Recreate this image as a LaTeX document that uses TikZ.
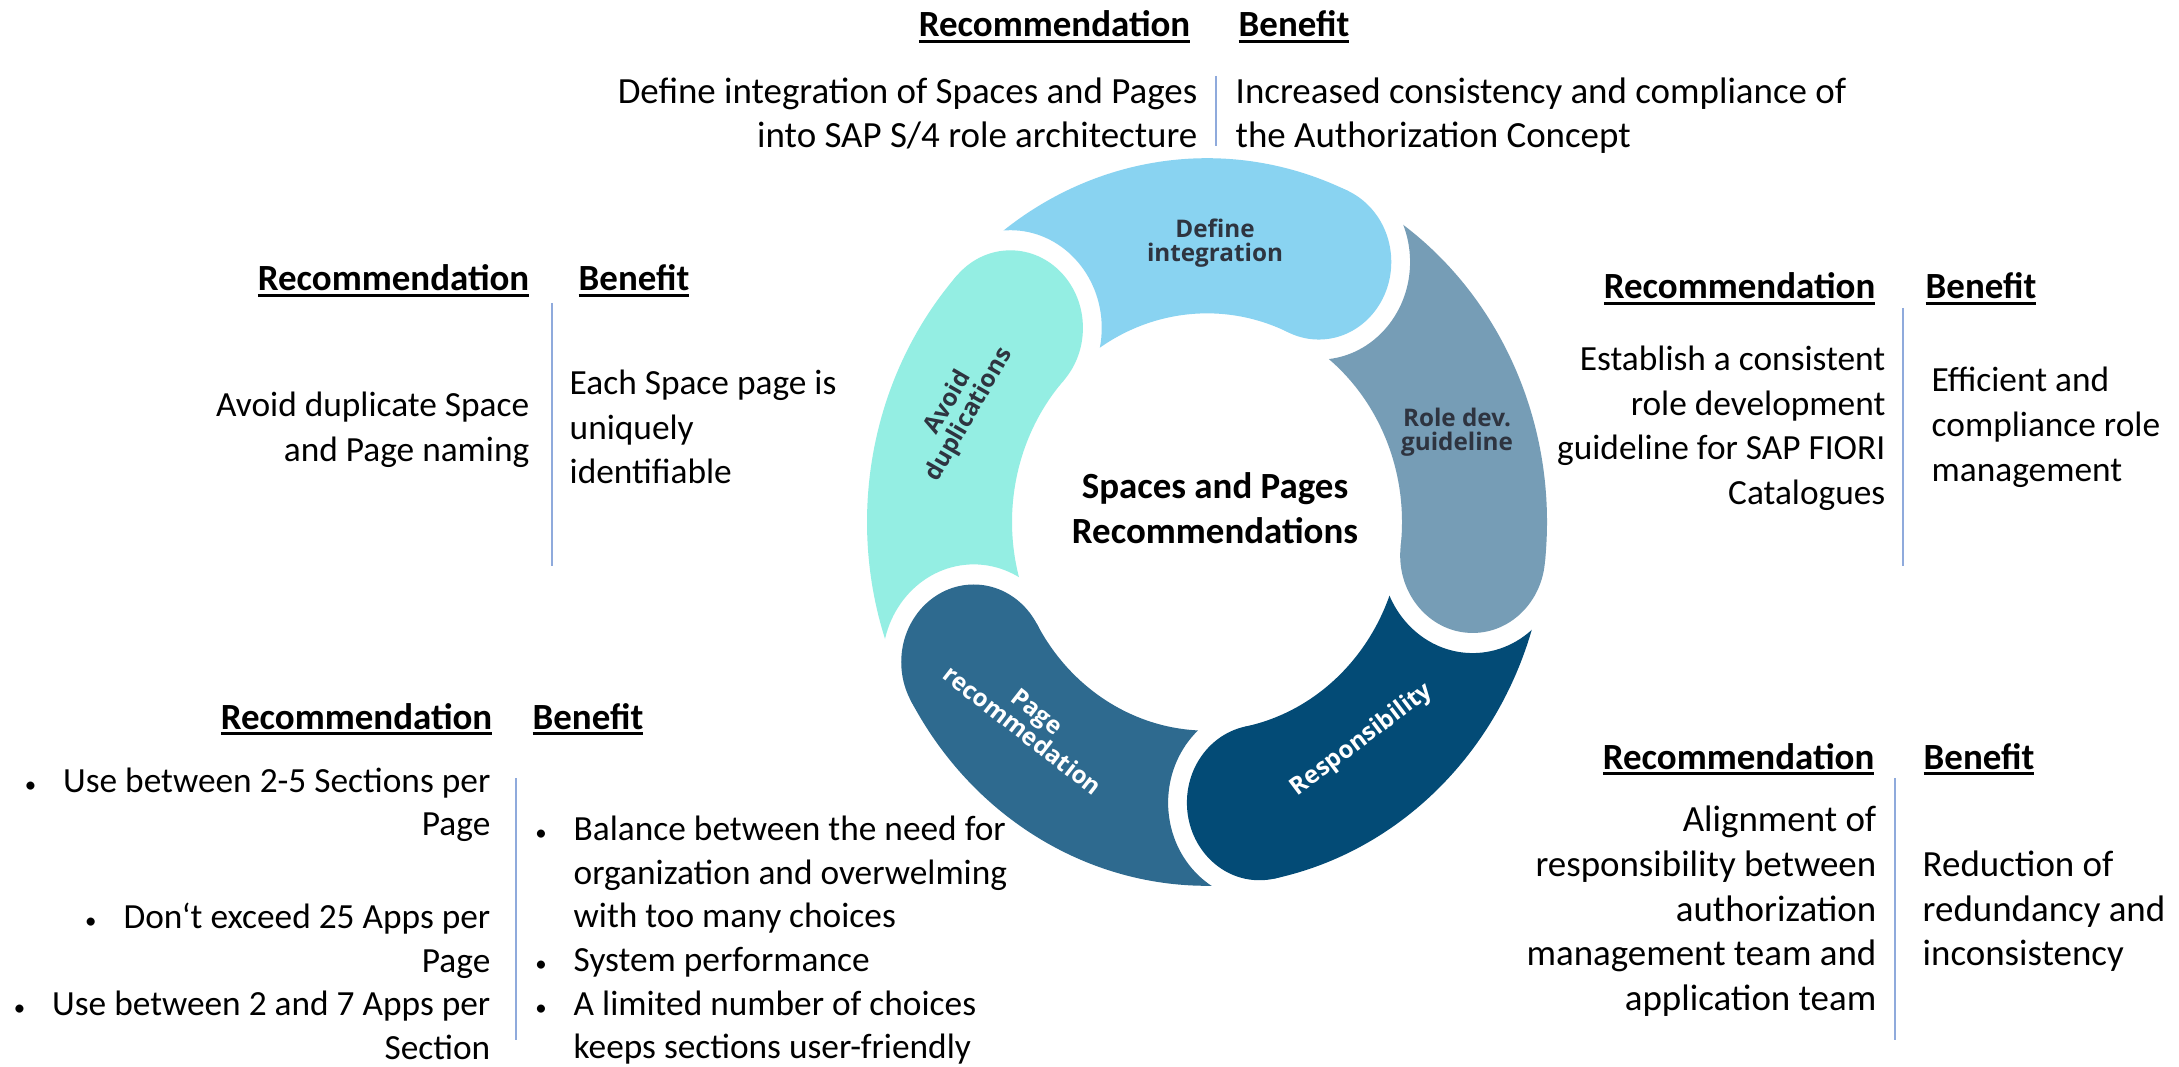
\documentclass[tikz,border=0pt]{standalone}
\usepackage{fontspec}
\usepackage{graphicx}
\setmainfont{Carlito}
\newfontfamily\segfamily{Open Sans}
\definecolor{avoidc}{HTML}{94EEE3}
\definecolor{definec}{HTML}{89D3F1}
\definecolor{rolec}{HTML}{769DB6}
\definecolor{respc}{HTML}{034B76}
\definecolor{pagec}{HTML}{2E6A8F}
\definecolor{lbltext}{HTML}{2E3440}
\definecolor{divc}{HTML}{8FAADC}
\newcommand\myBody{\fontsize{10.5pt}{12.7pt}\selectfont}
\newcommand\myBodyS{\fontsize{10.05pt}{12.7pt}\selectfont}
\newcommand\myBodyT{\fontsize{10.05pt}{12.4pt}\selectfont}
\newcommand\mySegFont{\segfamily\bfseries\fontsize{6.9pt}{6.9pt}\selectfont}
\newcommand\myUL[1]{{\setbox0=\hbox{#1}\rlap{\rule[-0.17em]{\wd0}{0.08em}}\box0}}
\newcommand\myDot{{\fontsize{6.5pt}{6.5pt}\selectfont\textbullet}}
\newcommand\myBul{\llap{\myDot\hspace{0.27cm}}}
\newcommand\ringseg[3]{%
  \begin{scope}[even odd rule]
    \clip (-500,-500) rectangle (500,500) (#2:267.5) circle (91.3);
    \fill[#1] (#2:340) arc[start angle=#2, end angle=#3, radius=340]
      -- (#3:195) arc[start angle=#3, end angle=#2, radius=195] -- cycle;
    \fill[#1] (#3:267.5) circle (72.5);
  \end{scope}}
\begin{document}
\begin{tikzpicture}[x=0.01cm, y=0.01cm,
  hdr/.style={font=\myBody\bfseries, inner sep=0pt},
  txt/.style={font=\myBody, inner sep=0pt, execute at begin node=\strut, execute at end node=\strut},
  txts/.style={txt, font=\myBodyS},
  txtt/.style={txt, font=\myBodyT},
  divider/.style={draw=divc, line width=0.6pt},
  seglbl/.style={font=\mySegFont, align=center, inner sep=0pt, text=lbltext}]
\fill[white] (0,0) rectangle (2179,1066);
\useasboundingbox (0,0) rectangle (2179,1066);

% ring
\begin{scope}[shift={(1207,544)}, yscale=1.07]
  \ringseg{avoidc}{209.3}{137.3}
  \ringseg{definec}{137.3}{65.3}
  \ringseg{rolec}{65.3}{-6.7}
  \ringseg{respc}{-6.7}{-78.7}
  \ringseg{pagec}{-78.7}{-150.7}
\end{scope}

% segment labels
\node[seglbl] (l-def) at (1215,823) {Define\\integration};
\node[seglbl] (l-role) at (1457,634) {Role dev.\\guideline};
\node[seglbl, rotate=60] (l-avoid) at (959,657) {Avoid\\duplications};
\node[seglbl, rotate=-38, text=white] (l-page) at (1030,345) {Page\\recommedation};
\node[seglbl, rotate=37, text=white] (l-resp) at (1362,326) {Responsibility};

% center
\node[txt, font=\myBody\bfseries, align=center] (center) at (1215,551) {Spaces and Pages\\Recommendations};

% top block
\node[hdr, anchor=base east] (t-rh) at (1191,1029) {\myUL{Recommendation}};
\node[hdr, anchor=base west] (t-bh) at (1238,1029) {\myUL{Benefit}};
\node[txt, align=right, anchor=east] (t-r) at (1198,946.5) {Define integration of Spaces and Pages\\into SAP S/4 role architecture};
\node[txt, align=left, anchor=west] (t-b) at (1235,946.5) {Increased consistency and compliance of\\the Authorization Concept};
\coordinate (t-d1) at (1216,990); \coordinate (t-d2) at (1216,920);
\draw[divider] (t-d1) -- (t-d2);

% upper left block
\node[hdr, anchor=base east] (ul-rh) at (530,775) {\myUL{Recommendation}};
\node[hdr, anchor=base west] (ul-bh) at (578,775) {\myUL{Benefit}};
\node[txts, align=right, anchor=east] (ul-r) at (530,632.5) {Avoid duplicate Space\\and Page naming};
\node[txts, align=left, anchor=west] (ul-b) at (569,632.3) {Each Space page is\\uniquely\\identifiable};
\coordinate (ul-d1) at (552,763); \coordinate (ul-d2) at (552,500);
\draw[divider] (ul-d1) -- (ul-d2);

% upper right block
\node[hdr, anchor=base east] (ur-rh) at (1876,767) {\myUL{Recommendation}};
\node[hdr, anchor=base west] (ur-bh) at (1925,767) {\myUL{Benefit}};
\node[txts, align=right, anchor=east] (ur-r) at (1886,634) {Establish a consistent\\role development\\guideline for SAP FIORI\\Catalogues};
\node[txts, align=left, anchor=west] (ur-b) at (1931,635) {Efficient and\\compliance role\\management};
\coordinate (ur-d1) at (1903,758); \coordinate (ur-d2) at (1903,500);
\draw[divider] (ur-d1) -- (ur-d2);

% lower left block
\node[hdr, anchor=base east] (ll-rh) at (493,337) {\myUL{Recommendation}};
\node[hdr, anchor=base west] (ll-bh) at (532,337) {\myUL{Benefit}};
\node[txtt, align=right, anchor=east] (ll-r) at (491,146) {\myBul Use between 2-5 Sections per\\Page\\[0.49cm]\myBul Don‘t exceed 25 Apps per\\Page\\\myBul Use between 2 and 7 Apps per\\Section};
\node[txtt, align=left, anchor=west] (ll-b) at (573,122) {\myBul Balance between the need for\\organization and overwelming\\with too many choices\\\myBul System performance\\\myBul A limited number of choices\\keeps sections user-friendly};
\coordinate (ll-d1) at (516,288); \coordinate (ll-d2) at (516,26);
\draw[divider] (ll-d1) -- (ll-d2);

% lower right block
\node[hdr, anchor=base east] (lr-rh) at (1875,297) {\myUL{Recommendation}};
\node[hdr, anchor=base west] (lr-bh) at (1923,297) {\myUL{Benefit}};
\node[txt, align=right, anchor=east] (lr-r) at (1877,151) {Alignment of\\responsibility between\\authorization\\management team and\\application team};
\node[txt, align=left, anchor=west] (lr-b) at (1922,151) {Reduction of\\redundancy and\\inconsistency};
\coordinate (lr-d1) at (1895,288); \coordinate (lr-d2) at (1895,26);
\draw[divider] (lr-d1) -- (lr-d2);
\end{tikzpicture}
\end{document}
